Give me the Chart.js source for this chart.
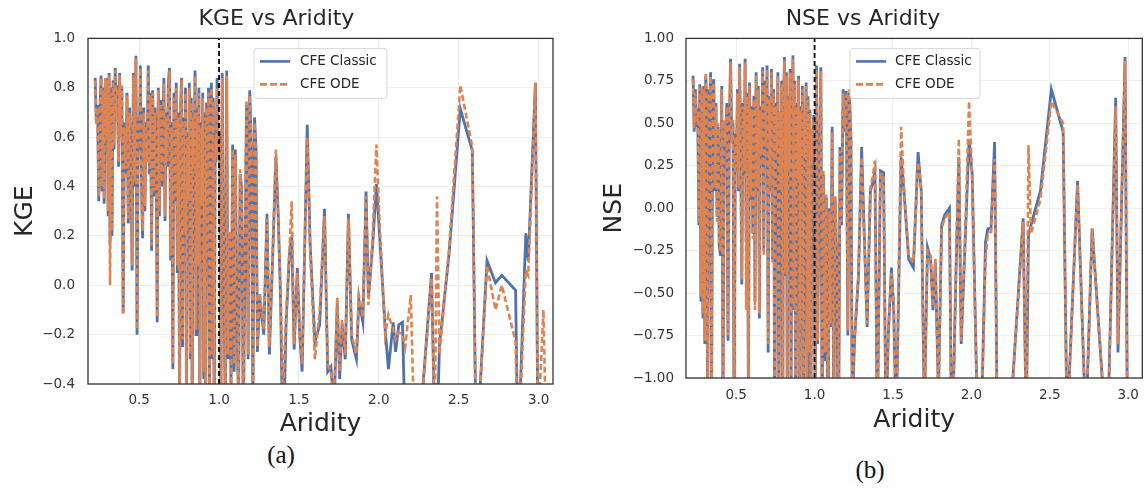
<!DOCTYPE html>
<html><head><meta charset="utf-8">
<script src="https://cdn.jsdelivr.net/npm/chart.js@4.4.0/dist/chart.umd.min.js"></script>
<style>
html,body{margin:0;padding:0;background:#fff;overflow:hidden;width:1144px;height:495px}
.wrap{position:absolute}
.cap{position:absolute;font-family:"Liberation Serif","DejaVu Serif",serif;font-size:25px;line-height:28px;color:#111;transform:translateX(-50%)}
</style></head><body>
<div class="wrap" style="left:0;top:0;"><canvas id="c1" width="575" height="440"></canvas></div>
<div class="wrap" style="left:580px;top:0;"><canvas id="c2" width="568" height="440"></canvas></div>
<div class="cap" style="left:281px;top:441px">(a)</div>
<div class="cap" style="left:870px;top:456px">(b)</div>
<script>
const aridity = [
0.225,0.232,0.240,0.247,0.255,0.262,0.268,0.275,0.281,0.288,
0.294,0.300,0.306,0.312,0.318,0.324,0.330,0.337,0.343,0.350,
0.357,0.364,0.371,0.378,0.385,0.392,0.400,0.408,0.416,0.424,
0.432,0.440,0.448,0.456,0.464,0.472,0.480,0.487,0.494,0.501,
0.508,0.515,0.522,0.529,0.536,0.543,0.550,0.557,0.564,0.571,
0.578,0.585,0.592,0.599,0.606,0.613,0.620,0.627,0.634,0.641,
0.648,0.655,0.662,0.669,0.676,0.683,0.690,0.697,0.704,0.711,
0.718,0.725,0.732,0.739,0.746,0.753,0.760,0.766,0.772,0.778,
0.784,0.790,0.796,0.802,0.808,0.814,0.820,0.826,0.832,0.838,
0.844,0.850,0.856,0.862,0.868,0.874,0.880,0.886,0.892,0.898,
0.904,0.910,0.916,0.922,0.928,0.934,0.940,0.946,0.952,0.958,
0.964,0.970,0.976,0.982,0.988,0.994,
1.004,1.012,1.020,1.030,1.040,1.048,1.056,1.066,1.075,1.085,
1.095,1.102,1.112,1.122,1.132,1.142,1.152,1.162,1.172,1.182,
1.192,1.202,1.212,1.222,1.232,1.240,
1.255,1.280,1.300,1.315,1.335,1.356,1.370,1.385,1.400,1.420,
1.440,1.455,1.470,1.490,1.505,1.520,1.552,1.570,1.600,1.630,
1.660,1.680,1.700,1.720,1.740,1.755,1.770,1.790,1.810,1.830,
1.860,1.875,1.900,1.920,1.935,1.960,1.985,2.005,2.040,2.060,
2.090,2.105,2.125,2.148,2.165,2.200,2.230,2.330,2.350,2.364,
2.380,2.440,2.510,2.585,2.610,2.677,2.730,2.770,2.856,2.870,
2.920,2.935,2.980,2.995,3.030,3.050];

const kgeClassic = [
0.84,0.66,0.73,0.34,0.72,0.85,0.38,0.80,0.33,0.82,
0.62,0.84,0.28,0.86,0.17,0.80,0.20,0.83,0.55,0.88,
0.70,0.81,0.48,0.86,0.62,0.80,-0.11,0.66,0.45,0.78,
0.25,0.72,0.52,0.06,0.86,0.40,0.93,-0.20,0.68,0.55,
0.89,0.38,0.19,0.72,0.30,0.66,0.52,0.89,0.45,0.78,
0.14,0.79,0.36,0.72,0.58,-0.15,0.80,0.28,0.75,0.40,
0.62,0.84,0.26,0.70,0.48,0.82,0.88,0.10,0.66,-0.34,
0.78,0.34,0.82,0.05,0.70,-0.55,0.74,0.84,-0.25,0.68,
0.20,0.80,-0.50,0.62,0.32,0.82,-0.30,0.76,-0.65,0.70,
0.45,0.87,-0.20,0.72,0.05,0.80,-0.55,0.66,0.30,0.78,
-0.38,0.70,-0.60,0.74,0.10,0.80,-0.45,0.60,0.82,-0.30,
0.76,-0.70,0.62,0.50,0.84,0.58,
0.60,-0.50,0.86,0.10,-0.60,0.87,-0.30,0.20,-0.45,0.57,
-0.35,0.55,-0.10,-0.50,0.45,0.39,-0.60,0.10,0.73,-0.30,
0.79,0.57,-0.50,0.68,0.55,-0.27,
-0.05,-0.20,0.29,-0.28,0.10,0.52,0.29,-0.05,-0.70,-0.15,
0.12,0.20,-0.26,0.07,-0.20,-0.35,0.65,0.17,-0.23,-0.16,
0.31,-0.35,-0.33,-0.50,-0.07,-0.38,-0.16,-0.30,0.29,-0.22,
-0.30,-0.06,-0.15,0.38,-0.05,0.15,0.41,0.20,-0.18,-0.34,
-0.15,-0.27,-0.16,-0.15,-0.60,-0.70,-0.80,0.05,-0.60,-0.60,
-0.24,0.13,0.715,0.545,-0.70,0.10,0.01,0.04,-0.02,-0.70,
0.21,0.10,0.82,-0.60,-0.70,-0.70];

const kgeODE = [
0.83,0.65,0.72,0.36,0.70,0.84,0.40,0.79,0.35,0.84,
0.60,0.83,0.30,0.85,0.00,0.78,0.22,0.82,0.57,0.87,
0.68,0.80,0.50,0.85,0.60,0.81,-0.12,0.64,0.47,0.77,
0.27,0.70,0.50,0.08,0.85,0.42,0.92,-0.18,0.66,0.57,
0.88,0.36,0.22,0.70,0.32,0.64,0.50,0.87,0.47,0.77,
0.16,0.78,0.38,0.70,0.56,-0.13,0.79,0.30,0.73,0.42,
0.60,0.82,0.28,0.68,0.50,0.80,0.87,0.12,0.64,-0.32,
0.76,0.36,0.80,0.08,0.68,-0.50,0.72,0.83,-0.22,0.66,
0.22,0.78,-0.45,0.60,0.34,0.80,-0.28,0.74,-0.60,0.68,
0.47,0.85,-0.18,0.70,0.08,0.78,-0.50,0.64,0.32,0.76,
-0.35,0.68,-0.55,0.72,0.12,0.78,-0.42,0.58,0.80,-0.28,
0.74,-0.65,0.60,0.52,0.80,0.56,
0.58,-0.45,0.84,0.12,-0.55,0.85,-0.28,0.22,-0.42,0.55,
-0.32,0.53,-0.08,-0.45,0.47,0.37,-0.55,0.12,0.75,-0.28,
0.77,0.55,-0.45,0.66,0.53,-0.25,
-0.03,-0.18,0.27,-0.25,0.12,0.55,0.27,-0.02,-0.45,-0.12,
0.14,0.34,-0.24,0.05,-0.18,-0.32,0.60,0.15,-0.30,-0.10,
0.28,-0.32,-0.35,-0.45,-0.05,-0.35,-0.14,-0.28,0.27,-0.20,
-0.28,-0.04,-0.13,0.36,-0.08,0.18,0.57,0.25,-0.20,-0.12,
-0.18,-0.22,-0.19,-0.20,-0.25,-0.04,-0.80,0.03,-0.60,0.36,
-0.28,0.15,0.81,0.56,-0.70,0.08,-0.10,0.00,-0.23,-0.70,
0.06,0.04,0.82,-0.60,-0.10,-0.70];

const nseClassic = [
0.78,0.45,0.70,0.52,0.55,-0.10,0.73,-0.55,0.70,-0.65,
0.72,-0.80,0.78,0.60,-1.40,0.70,0.55,0.80,-1.30,0.68,
0.76,0.10,0.62,-0.05,0.48,-0.22,-0.28,0.72,-1.20,0.50,
0.40,0.62,-0.78,0.45,0.88,0.40,0.50,-1.50,0.44,0.22,
0.70,0.10,0.85,0.30,-0.45,0.62,0.20,0.88,-0.20,0.68,
-1.20,0.74,0.05,0.60,-0.15,0.66,-0.55,0.80,0.10,0.72,
-0.65,0.60,0.30,0.83,-0.25,0.75,0.40,0.84,-0.85,0.66,
0.10,0.82,-0.30,0.70,-1.60,0.62,0.30,0.80,-1.30,0.55,
0.10,0.75,-1.80,0.60,0.89,-0.40,0.80,-1.50,0.66,0.20,
0.82,-1.20,0.70,0.90,-0.60,0.75,-1.70,0.62,0.15,0.78,
-1.40,0.60,-0.70,0.72,-1.90,0.55,0.30,0.74,-1.30,0.66,
-0.90,0.58,-1.60,0.45,0.25,0.55,
-1.20,0.84,-0.80,0.30,0.83,-1.40,0.20,-0.90,0.06,-1.50,
0.00,-0.70,0.48,-1.30,0.05,-0.35,-1.60,0.36,-0.10,0.70,
0.45,0.69,-0.75,0.68,0.40,-1.20,
-0.77,-0.40,0.36,-0.10,-0.70,0.10,0.15,0.22,-1.30,0.22,
0.21,-1.30,-0.75,-0.35,-0.60,-1.30,0.30,0.10,-0.30,-0.35,
0.33,0.10,-1.20,-0.23,-0.30,-0.60,-0.32,-1.10,-0.10,-0.04,
0.00,-1.50,-0.45,0.30,-0.80,-0.20,0.40,0.20,-1.30,-1.40,
-0.20,-0.12,-0.12,0.39,-1.30,-1.50,-1.50,-0.06,-1.30,-0.16,
-0.10,0.10,0.70,0.45,-1.30,0.16,-1.30,-0.12,-1.30,-1.30,
0.65,-0.85,0.89,-1.30,-1.30,-1.30];

const nseODE = [
0.76,0.47,0.68,0.50,0.57,-0.08,0.71,-0.52,0.72,-0.62,
0.70,-0.78,0.80,0.58,-1.30,0.68,0.57,0.78,-1.20,0.70,
0.74,0.12,0.60,-0.08,0.50,-0.20,-0.25,0.70,-1.10,0.52,
0.38,0.60,-0.75,0.47,0.86,0.38,0.52,-1.40,0.42,0.24,
0.68,0.12,0.83,0.28,-0.42,0.60,0.22,0.86,-0.60,0.66,
-1.10,0.72,0.08,0.58,-0.18,0.64,-0.60,0.78,0.12,0.70,
-0.62,0.58,0.32,0.81,-0.28,0.73,0.38,0.82,-0.80,0.64,
0.12,0.80,-0.32,0.68,-1.50,0.60,0.32,0.78,-1.20,0.57,
0.12,0.73,-1.70,0.58,0.87,-0.38,0.78,-1.40,0.64,0.22,
0.80,-1.10,0.68,0.88,-0.58,0.73,-1.60,0.60,0.17,0.76,
-1.30,0.58,-0.68,0.70,-1.80,0.57,0.32,0.72,-1.20,0.64,
-0.85,0.56,-1.50,0.47,0.27,0.53,
-1.10,0.82,-0.78,0.32,0.81,-1.30,0.22,-0.85,0.08,-1.40,
-0.02,-0.68,0.45,-1.20,0.07,-0.32,-1.50,0.34,-0.08,0.68,
0.47,0.67,-0.72,0.70,0.42,-1.10,
-0.75,-0.38,0.30,-0.12,-0.68,0.12,0.18,0.28,-1.30,0.20,
0.19,-1.30,-0.72,-0.38,-0.58,-1.30,0.48,0.12,-0.28,-0.32,
0.27,0.12,-1.20,-0.25,-0.28,-0.58,-0.30,-1.10,-0.12,-0.06,
-0.02,-1.50,-0.42,0.41,-0.78,-0.18,0.63,0.18,-1.30,-1.40,
-0.30,-0.15,-0.14,0.29,-1.30,-1.50,-1.50,-0.08,-1.30,0.37,
-0.15,0.05,0.63,0.50,-1.30,0.14,-1.30,-0.12,-1.30,-1.30,
0.60,-0.80,0.87,-1.30,-1.30,-1.30];

const xTicks = [0.5, 1.0, 1.5, 2.0, 2.5, 3.0];
const kgeTicks = [-0.4, -0.2, 0.0, 0.2, 0.4, 0.6, 0.8, 1.0];
const nseTicks = [-1.00, -0.75, -0.50, -0.25, 0.00, 0.25, 0.50, 0.75, 1.00];
const seriesNames = ['CFE Classic', 'CFE ODE'];
const threshold = 1.0;

const BLUE = '#4c72b0', ORANGE = '#dd8452', TXT = '#262626';
Chart.defaults.font.family = "'DejaVu Sans', sans-serif";
Chart.defaults.color = TXT;

const frameLegend = {
  id: 'frameLegend',
  afterDatasetsDraw(chart, args, o) {
    const {ctx, chartArea: a} = chart;
    ctx.save();
    ctx.strokeStyle = '#333'; ctx.lineWidth = 1.3;
    ctx.strokeRect(a.left, a.top, a.right - a.left, a.bottom - a.top);
    const lx = a.left + o.dx, ly = a.top + o.dy, w = o.w, h = 50;
    ctx.beginPath();
    if (ctx.roundRect) ctx.roundRect(lx, ly, w, h, 3); else ctx.rect(lx, ly, w, h);
    ctx.fillStyle = 'rgba(255,255,255,0.85)'; ctx.fill();
    ctx.strokeStyle = '#d6d6d6'; ctx.lineWidth = 1; ctx.stroke();
    ctx.font = "13.5px 'DejaVu Sans'"; ctx.textBaseline = 'middle'; ctx.fillStyle = TXT;
    ctx.lineWidth = 2.6;
    ctx.strokeStyle = BLUE; ctx.setLineDash([]);
    ctx.beginPath(); ctx.moveTo(lx + 6, ly + 13); ctx.lineTo(lx + 36, ly + 13); ctx.stroke();
    ctx.fillText(seriesNames[0], lx + o.tx, ly + 13);
    ctx.strokeStyle = ORANGE; ctx.setLineDash([7, 3]);
    ctx.beginPath(); ctx.moveTo(lx + 6, ly + 36); ctx.lineTo(lx + 36, ly + 36); ctx.stroke();
    ctx.setLineDash([]);
    ctx.fillText(seriesNames[1], lx + o.tx, ly + 36);
    ctx.restore();
  }
};

function makeChart(id, p) {
  const pts = arr => aridity.map((x, i) => ({x, y: arr[i]}));
  const fmt = v => (p.dec === 1 ? v.toFixed(1) : v.toFixed(2)).replace('-', '\u2212');
  return new Chart(document.getElementById(id), {
    type: 'line',
    data: {
      datasets: [
        {label: 'threshold', data: [{x: threshold, y: p.min}, {x: threshold, y: p.max}], borderColor: '#000', borderWidth: 1.8, borderDash: [5, 3], pointRadius: 0, order: 0},
        {label: seriesNames[1], data: pts(p.ode), borderColor: ORANGE, borderWidth: 2.6, borderDash: [6, 3], pointRadius: 0, tension: 0, order: 1},
        {label: seriesNames[0], data: pts(p.classic), borderColor: BLUE, borderWidth: 2.8, pointRadius: 0, tension: 0, order: 2}
      ]
    },
    options: {
      responsive: false, animation: false, events: [],
      layout: {padding: {left: 0, right: p.padRight, top: 0, bottom: 0}},
      plugins: {
        legend: {display: false}, tooltip: {enabled: false},
        title: {display: true, text: p.title, font: {size: 22, weight: 'normal'}, color: TXT, padding: {top: 6, bottom: 6}},
        frameLegend: p.legend
      },
      scales: {
        x: {
          type: 'linear', min: 0.18, max: 3.09,
          afterBuildTicks: s => { s.ticks = xTicks.map(v => ({value: v})); },
          afterFit: s => { s.height = p.xH; },
          ticks: {callback: v => v.toFixed(1), font: {size: 13.5}, color: '#333', padding: p.xPad, autoSkip: false, maxRotation: 0},
          grid: {color: '#efefef', drawTicks: false, lineWidth: 1},
          border: {display: false},
          title: {display: true, text: 'Aridity', font: {size: 25}, color: TXT, padding: {top: 0, bottom: p.xTitlePad}}
        },
        y: {
          min: p.min, max: p.max,
          afterBuildTicks: s => { s.ticks = p.ticks.map(v => ({value: v})); },
          afterFit: s => { s.width = p.yW; },
          ticks: {callback: fmt, font: {size: 13.5}, color: '#333', padding: p.yPad, autoSkip: false},
          grid: {color: '#efefef', drawTicks: false, lineWidth: 1},
          border: {display: false},
          title: {display: true, text: p.yLabel, font: {size: 25}, color: TXT, padding: {top: p.yTitlePad, bottom: 0}}
        }
      }
    },
    plugins: [frameLegend]
  });
}

makeChart('c1', {title: 'KGE vs Aridity', yLabel: 'KGE', min: -0.4, max: 1.0, ticks: kgeTicks, dec: 1,
  classic: kgeClassic, ode: kgeODE, yW: 88, padRight: 22, xH: 56, xPad: 8, xTitlePad: 1, yPad: 13, yTitlePad: 10,
  legend: {dx: 166, dy: 10, w: 133, tx: 46}});
makeChart('c2', {title: 'NSE vs Aridity', yLabel: 'NSE', min: -1.0, max: 1.0, ticks: nseTicks, dec: 2,
  classic: nseClassic, ode: nseODE, yW: 106, padRight: 2, xH: 62, xPad: 9, xTitlePad: 5, yPad: 12, yTitlePad: 19,
  legend: {dx: 164, dy: 10, w: 130, tx: 45}});
</script>
</body></html>
